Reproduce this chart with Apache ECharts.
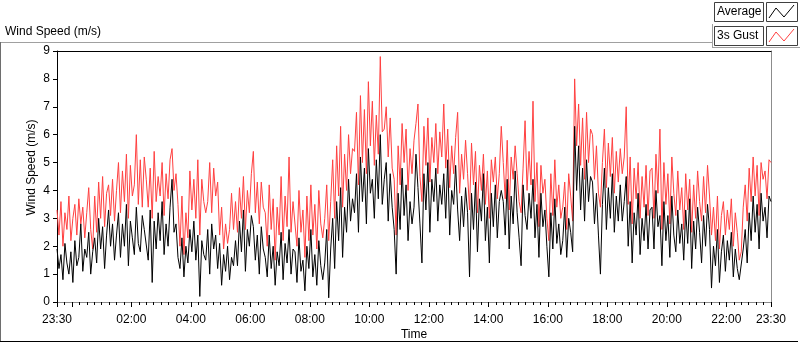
<!DOCTYPE html>
<html>
<head>
<meta charset="utf-8">
<script src="https://cdn.jsdelivr.net/npm/echarts@6/dist/echarts.min.js"></script>
<style>
  html, body { margin: 0; padding: 0; background: #fff; }
  #windChart { width: 800px; height: 342px; }
</style>
</head>
<body>
<div id="windChart"></div>
<script>
// one reading every 4 minutes, 23:30 to 23:30 next day (x = hours since 00:00)
const startHour = -0.5;
const stepMinutes = 4;

// Average wind speed (m/s), 15 readings per hour
const average = [
  1.9, 1.2, 1.7, 0.8, 2.1, 1.4, 1.0, 1.8, 0.7, 2.2, 1.3, 1.6, 2.8, 1.1, 1.9,   // 23:30
  1.6, 2.5, 1.0, 1.8, 2.3, 1.4, 3.0, 1.9, 2.7, 1.2, 2.4, 3.3, 2.0, 2.8, 1.5,   // 00:30
  2.4, 3.2, 1.6, 2.8, 2.0, 3.5, 1.3, 2.9, 2.3, 1.7, 3.4, 2.1, 1.8, 3.1, 2.6,   // 01:30
  2.6, 1.5, 3.3, 0.7, 2.9, 1.9, 3.2, 2.2, 3.6, 1.7, 2.8, 2.0, 3.4, 4.4, 2.5,   // 02:30
  2.8, 1.6, 1.2, 2.3, 0.9, 2.0, 1.4, 2.6, 1.8, 2.9, 1.5, 2.4, 0.2, 2.2, 1.7,   // 03:30
  1.5, 2.6, 1.0, 2.8, 1.9, 2.4, 1.2, 2.1, 0.6, 1.7, 1.1, 2.0, 0.8, 1.6, 1.3,   // 04:30
  2.2, 1.3, 2.9, 1.8, 3.3, 1.1, 2.6, 2.0, 3.1, 2.7, 1.5, 2.4, 1.0, 2.7, 1.9,   // 05:30
  1.6, 0.9, 2.4, 1.2, 2.0, 0.6, 1.8, 1.3, 2.5, 0.8, 2.1, 1.4, 2.6, 1.0, 1.9,   // 06:30
  1.8, 0.7, 2.3, 1.1, 1.5, 0.4, 2.0, 1.2, 2.6, 0.9, 1.7, 0.6, 2.2, 1.3, 0.8,   // 07:30
  1.4, 2.6, 0.15, 1.9, 3.0, 1.2, 3.6, 2.2, 4.1, 1.6, 3.4, 2.5, 4.4, 2.9, 3.7,  // 08:30
  3.2, 4.6, 2.5, 5.2, 3.6, 4.8, 2.8, 5.5, 3.9, 4.4, 3.0, 5.1, 3.7, 6.0, 3.5,   // 09:30
  4.4, 5.0, 2.9, 4.6, 3.4, 2.6, 1.0, 3.9, 2.6, 4.8, 3.1, 4.2, 2.2, 3.6, 2.8,   // 10:30
  3.4, 5.3, 4.1, 2.8, 1.4, 4.6, 3.3, 5.0, 2.5, 4.4, 3.6, 4.8, 2.9, 4.2, 3.5,   // 11:30
  4.6, 3.0, 5.1, 2.4, 4.0, 3.5, 4.9, 3.3, 2.2, 3.8, 2.7, 4.1, 3.2, 0.9, 3.9,   // 12:30
  2.6, 4.3, 1.8, 3.7, 2.9, 4.6, 2.2, 3.4, 1.4, 3.9, 2.7, 4.2, 2.3, 3.6, 4.0,   // 13:30
  3.6, 2.4, 4.4, 1.9, 3.8, 2.8, 4.7, 3.2, 2.3, 1.3, 4.2, 3.1, 2.6, 3.9, 3.0,   // 14:30
  4.4, 2.3, 3.5, 1.6, 3.9, 2.7, 3.3, 2.0, 0.9, 3.2, 1.9, 3.7, 2.1, 2.8, 1.7,   // 15:30
  2.2, 3.4, 1.6, 3.0, 2.5, 1.8, 6.3, 4.0, 5.6, 3.3, 4.8, 2.9, 5.1, 3.6, 4.5,   // 16:30
  4.3, 2.8, 3.9, 2.4, 1.0, 3.5, 4.8, 2.6, 4.1, 3.0, 4.6, 2.5, 3.8, 2.9, 4.2,   // 17:30
  2.9, 3.6, 4.5, 2.0, 3.6, 1.4, 3.2, 2.4, 3.9, 1.7, 3.0, 2.2, 3.5, 1.9, 3.3,   // 18:30
  3.4, 1.9, 4.0, 2.7, 3.1, 1.3, 3.6, 2.2, 3.1, 1.6, 3.8, 2.4, 1.8, 3.3, 2.1,   // 19:30
  2.8, 1.5, 3.3, 2.1, 3.7, 1.2, 2.9, 1.9, 3.4, 2.5, 1.4, 3.1, 2.0, 3.5, 2.6,   // 20:30
  0.5, 2.0, 1.3, 2.6, 0.7, 1.8, 2.4, 1.1, 2.2, 1.5, 2.5, 0.9, 1.9, 1.2, 0.8,   // 21:30
  0.8, 1.9, 2.6, 1.4, 3.2, 2.2, 3.8, 2.5, 3.5, 1.9, 3.9, 2.9, 3.4, 2.3, 3.8,   // 22:30
  3.6                                                                          // 23:30
];

// 3 second gust (m/s), same readings
const gust = [
  3.3, 2.4, 3.6, 2.0, 3.2, 2.6, 3.8, 2.2, 3.0, 3.5, 2.4, 3.7, 2.8, 3.4, 2.3,
  3.2, 4.1, 2.6, 1.9, 3.8, 2.5, 4.3, 3.0, 4.5, 2.7, 3.9, 4.2, 3.1, 4.4, 2.9,
  4.0, 5.0, 3.2, 4.7, 3.6, 5.3, 3.0, 4.9, 3.8, 4.2, 6.0, 3.5, 5.1, 3.4, 5.2,
  4.4, 3.4, 4.8, 3.0, 5.4, 3.6, 4.5, 3.8, 5.0, 3.1, 4.6, 3.7, 5.1, 5.5, 4.0,
  4.6, 3.5, 2.0, 3.8, 1.7, 3.2, 2.3, 4.7, 3.3, 4.4, 3.0, 5.1, 2.4, 4.4, 3.6,
  3.2, 3.6, 5.0, 3.2, 4.8, 3.8, 4.3, 2.4, 3.4, 1.9, 2.8, 2.1, 2.6, 3.9, 2.6,
  3.6, 2.5, 4.1, 3.0, 4.5, 2.6, 4.0, 3.2, 4.6, 5.4, 3.2, 4.3, 2.8, 4.3, 3.4,
  3.2, 2.0, 4.2, 2.6, 3.7, 1.5, 3.4, 2.4, 4.5, 2.2, 3.8, 2.7, 5.2, 2.5, 3.6,
  3.6, 2.0, 4.0, 2.5, 3.3, 1.6, 3.8, 2.2, 4.2, 2.4, 3.5, 1.9, 4.0, 2.8, 2.3,
  3.0, 4.2, 2.2, 3.6, 5.1, 3.0, 5.6, 3.8, 6.3, 3.4, 5.3, 4.0, 6.0, 4.6, 5.5,
  5.4, 6.8, 4.2, 7.4, 5.0, 6.9, 4.6, 7.9, 5.6, 7.2, 4.9, 6.7, 5.3, 8.8, 6.1,
  6.2, 7.0, 5.2, 6.6, 4.8, 4.4, 2.4, 5.6, 4.2, 6.4, 5.0, 6.2, 4.0, 5.5, 4.6,
  5.8, 6.4, 7.1, 4.5, 3.6, 6.3, 4.9, 6.6, 4.3, 5.9, 5.0, 6.4, 4.6, 6.1, 5.2,
  7.1, 4.8, 6.2, 4.1, 5.6, 4.6, 5.9, 6.8, 3.9, 5.3, 4.4, 5.8, 4.6, 3.3, 5.7,
  4.2, 5.4, 3.2, 4.9, 4.0, 5.3, 3.5, 4.7, 3.0, 5.1, 4.3, 5.2, 3.7, 4.6, 6.3,
  5.0, 3.7, 5.8, 3.3, 5.2, 4.4, 5.6, 4.6, 3.6, 3.2, 4.8, 6.5, 4.0, 5.4, 4.2,
  7.2, 3.6, 5.0, 2.7, 4.9, 3.9, 4.4, 3.0, 2.2, 4.6, 3.1, 5.1, 3.4, 4.2, 3.0,
  3.4, 4.3, 2.6, 4.6, 3.8, 2.9, 8.0, 5.6, 7.1, 4.9, 6.6, 4.4, 6.8, 5.0, 6.2,
  6.0, 4.4, 5.6, 3.9, 3.4, 5.0, 6.2, 4.1, 5.7, 4.5, 5.9, 3.9, 5.4, 4.3, 5.5,
  4.6, 5.2, 7.0, 3.5, 5.2, 2.8, 4.8, 3.7, 5.0, 3.0, 4.5, 3.4, 4.9, 3.1, 4.7,
  4.8, 3.0, 5.3, 3.9, 6.2, 2.6, 5.0, 3.5, 4.6, 2.8, 5.2, 3.9, 3.1, 4.7, 3.3,
  4.1, 2.6, 4.6, 3.3, 4.4, 2.5, 4.2, 3.0, 4.7, 3.6, 2.9, 4.5, 3.2, 4.9, 3.8,
  2.4, 3.4, 2.2, 3.8, 1.9, 3.1, 3.6, 2.4, 3.3, 2.6, 3.7, 2.0, 3.2, 2.5, 1.5,
  1.8, 3.4, 4.2, 2.9, 4.8, 3.6, 5.2, 3.8, 4.9, 3.1, 5.0, 4.4, 4.7, 3.7, 5.1,
  5.0
];

const xLabelHours = [-0.5, 2, 4, 6, 8, 10, 12, 14, 16, 18, 20, 22, 23.5];
const xMajorTicks = [-0.5, 0, 2, 4, 6, 8, 10, 12, 14, 16, 18, 20, 22, 23.5];
const yTicks = [0, 1, 2, 3, 4, 5, 6, 7, 8, 9];

const toPoints = (arr) => arr.map((v, i) => [startHour + (i * stepMinutes) / 60, v]);

const minorTicks = [];
for (let h = -0.5; h <= 23.5 + 1e-9; h += 0.25) minorTicks.push(h);

const pad = (n) => (n < 10 ? "0" + n : "" + n);
const fmtTime = (v) => {
  let h = v < 0 ? v + 24 : v;
  const hh = Math.floor(h + 1e-9);
  const mm = Math.round((h - hh) * 60);
  return pad(hh) + ":" + pad(mm);
};

const font = "Liberation Sans";
const chart = echarts.init(document.getElementById("windChart"), null, { renderer: "canvas" });

chart.setOption({
  animation: false,
  backgroundColor: "#fff",
  textStyle: { fontFamily: font },
  title: {
    text: "Wind Speed (m/s)",
    left: 5,
    top: 26,
    padding: 0,
    textStyle: { fontFamily: font, fontSize: 12, fontWeight: "normal", color: "#000" },
  },
  grid: { left: 57, right: 29, top: 51, bottom: 40, outerBoundsMode: "none" },
  xAxis: [
    {
      type: "value",
      position: "bottom",
      min: -0.5,
      max: 23.5,
      name: "Time",
      nameLocation: "middle",
      nameGap: 27,
      nameMoveOverlap: false,
      nameTextStyle: { fontFamily: font, fontSize: 12, color: "#000" },
      axisLine: { onZero: false, lineStyle: { color: "#8c8c8c", width: 1 } },
      axisTick: { show: true, customValues: xMajorTicks, length: 5, lineStyle: { color: "#000" } },
      axisLabel: {
        customValues: xLabelHours,
        formatter: fmtTime,
        margin: 12,
        fontFamily: font,
        fontSize: 12,
        color: "#000",
      },
      splitLine: { show: false },
    },
    {
      type: "value",
      position: "bottom",
      min: -0.5,
      max: 23.5,
      axisLine: { show: false, onZero: false },
      axisTick: { show: true, customValues: minorTicks, length: 3, lineStyle: { color: "#000" } },
      axisLabel: { show: false },
      splitLine: { show: false },
    },
    {
      type: "value",
      position: "top",
      min: -0.5,
      max: 23.5,
      axisLine: { show: true, onZero: false, lineStyle: { color: "#000", width: 1 } },
      axisTick: { show: false },
      axisLabel: { show: false },
      splitLine: { show: false },
    },
  ],
  yAxis: [
    {
      type: "value",
      position: "left",
      min: 0,
      max: 9,
      interval: 1,
      name: "Wind Speed (m/s)",
      nameLocation: "middle",
      nameGap: 19,
      nameMoveOverlap: false,
      nameTextStyle: { fontFamily: font, fontSize: 12, color: "#000", padding: [0, 0, 0, 18] },
      axisLine: { show: true, onZero: false, lineStyle: { color: "#000", width: 1 } },
      axisTick: { show: true, customValues: yTicks, length: 4, lineStyle: { color: "#000" } },
      axisLabel: { margin: 7, fontFamily: font, fontSize: 12, color: "#000" },
      splitLine: { show: false },
    },
    {
      type: "value",
      position: "right",
      min: 0,
      max: 9,
      axisLine: { show: true, onZero: false, lineStyle: { color: "#8c8c8c", width: 1 } },
      axisTick: { show: false },
      axisLabel: { show: false },
      splitLine: { show: false },
    },
  ],
  series: [
    {
      name: "3s Gust",
      type: "line",
      xAxisIndex: 0,
      yAxisIndex: 0,
      showSymbol: false,
      lineStyle: { color: "#ff4040", width: 1 },
      itemStyle: { color: "#ff4040" },
      z: 2,
      data: toPoints(gust),
    },
    {
      name: "Average",
      type: "line",
      xAxisIndex: 0,
      yAxisIndex: 0,
      showSymbol: false,
      lineStyle: { color: "#000", width: 1 },
      itemStyle: { color: "#000" },
      z: 3,
      data: toPoints(average),
    },
  ],
  graphic: [
    // outer frame
    { type: "line", shape: { x1: 0, y1: 42.5, x2: 712, y2: 42.5 }, style: { stroke: "#a0a0a0", lineWidth: 1 } },
    { type: "line", shape: { x1: 0.5, y1: 42, x2: 0.5, y2: 341 }, style: { stroke: "#6e6e6e", lineWidth: 1 } },
    { type: "line", shape: { x1: 0, y1: 341.5, x2: 798, y2: 341.5 }, style: { stroke: "#000", lineWidth: 1 } },
    // legend panel
    { type: "line", shape: { x1: 712.5, y1: 24, x2: 712.5, y2: 48 }, style: { stroke: "#a0a0a0", lineWidth: 1 } },
    { type: "line", shape: { x1: 712, y1: 47.5, x2: 800, y2: 47.5 }, style: { stroke: "#a0a0a0", lineWidth: 1 } },
    { type: "rect", shape: { x: 714.5, y: 2.5, width: 49, height: 19 }, style: { fill: "#fff", stroke: "#404040", lineWidth: 1 } },
    { type: "text", x: 717, y: 12, style: { text: "Average", font: "12px " + font, fill: "#000", verticalAlign: "middle" } },
    { type: "rect", shape: { x: 766.5, y: 2.5, width: 31, height: 19 }, style: { fill: "#fff", stroke: "#404040", lineWidth: 1 } },
    { type: "polyline", shape: { points: [[769, 18], [776, 8], [784, 17], [794, 5]] }, style: { stroke: "#000", lineWidth: 1, fill: null } },
    { type: "rect", shape: { x: 714.5, y: 26.5, width: 49, height: 19 }, style: { fill: "#fff", stroke: "#404040", lineWidth: 1 } },
    { type: "text", x: 717, y: 36, style: { text: "3s Gust", font: "12px " + font, fill: "#000", verticalAlign: "middle" } },
    { type: "rect", shape: { x: 766.5, y: 26.5, width: 31, height: 19 }, style: { fill: "#fff", stroke: "#404040", lineWidth: 1 } },
    { type: "polyline", shape: { points: [[769, 42], [776, 32], [784, 41], [794, 29]] }, style: { stroke: "#ff4040", lineWidth: 1, fill: null } },
  ],
});
</script>
</body>
</html>
